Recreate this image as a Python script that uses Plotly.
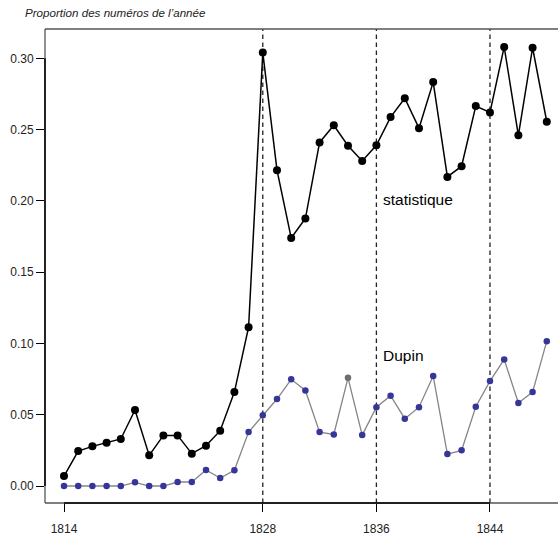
import plotly.graph_objects as go

years = list(range(1814, 1849))
statistique = [0.007, 0.0245, 0.0278, 0.0304, 0.033, 0.0533, 0.0215, 0.0355, 0.0355, 0.0227,
               0.0283, 0.0388, 0.0659, 0.1114, 0.304, 0.2215, 0.174, 0.1876, 0.241, 0.253,
               0.2387, 0.228, 0.239, 0.2588, 0.272, 0.251, 0.2833, 0.2168, 0.2243, 0.2665,
               0.262, 0.308, 0.246, 0.3074, 0.2555]
dupin = [0.0, 0.0, 0.0, 0.0, 0.0, 0.0026, 0.0, 0.0, 0.0028, 0.0028,
         0.0112, 0.0056, 0.011, 0.0378, 0.0497, 0.061, 0.0748, 0.067, 0.0378, 0.0362,
         0.0759, 0.0357, 0.0553, 0.0633, 0.0472, 0.0553, 0.0771, 0.0224, 0.025, 0.0556,
         0.0736, 0.0888, 0.0582, 0.0659, 0.1016]
gray_point_years = [1834]
period_years = [1828, 1836, 1844]
x_ticks = [1814, 1828, 1836, 1844]
y_ticks = [0.0, 0.05, 0.10, 0.15, 0.20, 0.25, 0.30]
title_text = "Proportion des numéros de l’année"

XR = [1812.662, 1848.79]
YR = [-0.01192, 0.32055]

FONT = "Liberation Sans, Arial, sans-serif"
blue = "#36369a"
dupin_colors = ["#6e6e6e" if y in gray_point_years else blue for y in years]

fig = go.Figure()
fig.add_trace(go.Scatter(
    x=years, y=dupin, mode="lines+markers",
    line=dict(color="#858585", width=1.3),
    marker=dict(color=dupin_colors, size=6.5, line=dict(width=0)),
    showlegend=False, hoverinfo="skip", cliponaxis=False))
fig.add_trace(go.Scatter(
    x=years, y=statistique, mode="lines+markers",
    line=dict(color="black", width=1.5),
    marker=dict(color="black", size=8, line=dict(width=0)),
    showlegend=False, hoverinfo="skip", cliponaxis=False))

shapes = []
for yr in period_years:
    shapes.append(dict(type="line", xref="x", yref="paper", x0=yr, x1=yr, y0=0, y1=1,
                       line=dict(color="#222222", width=1.3, dash="4.5px,3.5px"), layer="below"))
# frame (box, gray) top, left, bottom
frame = dict(color="#555555", width=1.3)
shapes.append(dict(type="line", xref="paper", yref="paper", x0=0, x1=1, y0=1, y1=1, line=frame))
shapes.append(dict(type="line", xref="paper", yref="paper", x0=0, x1=1, y0=0, y1=0, line=frame))
shapes.append(dict(type="line", xref="paper", yref="paper", x0=0, x1=0, y0=0, y1=1, line=frame))
# axis lines (black) between first and last ticks
shapes.append(dict(type="line", xref="x", yref="paper", x0=x_ticks[0], x1=x_ticks[-1], y0=0, y1=0,
                   line=dict(color="black", width=1.5)))
shapes.append(dict(type="line", xref="paper", yref="y", x0=0, x1=0, y0=y_ticks[0], y1=y_ticks[-1],
                   line=dict(color="black", width=1.5)))

annotations = [
    dict(text=title_text, xref="paper", yref="paper", x=(22.5 - 45) / 513, y=(503 - 12) / 474,
         xanchor="left", yanchor="middle", showarrow=False,
         font=dict(family=FONT, size=11.6, color="#222222", style="italic")),
    dict(text="statistique", xref="x", yref="y", x=1836.35, y=0.2013, xanchor="left",
         yanchor="middle", showarrow=False, font=dict(family=FONT, size=15.5, color="black")),
    dict(text="Dupin", xref="x", yref="y", x=1836.35, y=0.0912, xanchor="left",
         yanchor="middle", showarrow=False, font=dict(family=FONT, size=15.5, color="black")),
]

fig.update_layout(
    width=558, height=536,
    margin=dict(l=45, r=0, t=29, b=33, pad=0),
    paper_bgcolor="white", plot_bgcolor="white",
    font=dict(family=FONT, size=12, color="#222222"),
    shapes=shapes, annotations=annotations,
    xaxis=dict(range=XR, tickvals=x_ticks, ticktext=[str(v) for v in x_ticks],
               ticks="outside", ticklen=8, tickwidth=1.3, tickcolor="black",
               showgrid=False, zeroline=False, showline=False,
               tickfont=dict(family=FONT, size=12, color="#222222"),
               ticklabelstandoff=7),
    yaxis=dict(range=YR, tickvals=y_ticks, ticktext=[f"{v:.2f}" for v in y_ticks],
               ticks="outside", ticklen=8, tickwidth=1.3, tickcolor="black",
               showgrid=False, zeroline=False, showline=False,
               tickfont=dict(family=FONT, size=12, color="#222222")),
)

fig.write_html("out.html", config={"displayModeBar": False},
               post_script="document.body.style.margin='0';document.body.style.overflow='hidden';")
